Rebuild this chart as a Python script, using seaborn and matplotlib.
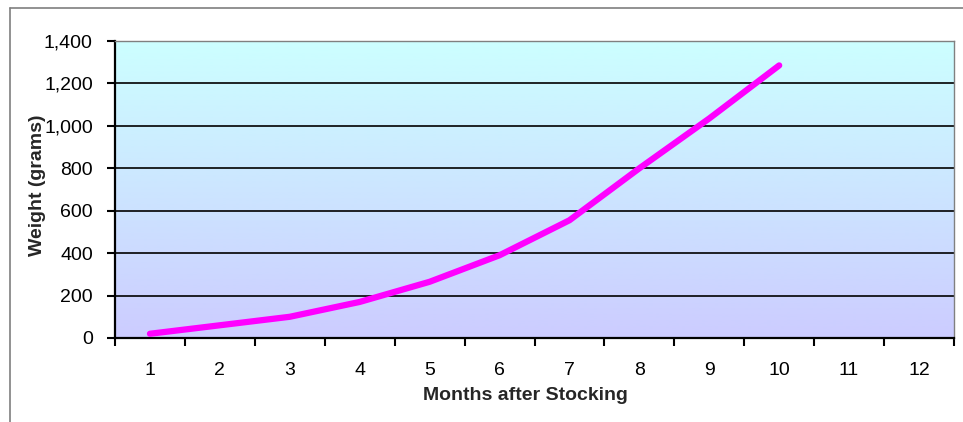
import numpy as np
import matplotlib
matplotlib.use("Agg")
import matplotlib.pyplot as plt
import seaborn as sns
from matplotlib.colors import LinearSegmentedColormap
from matplotlib.lines import Line2D
from matplotlib.ticker import FuncFormatter

# Fish growth after stocking
months = [1, 2, 3, 4, 5, 6, 7, 8, 9, 10]
weight_g = [20, 60, 100, 170, 265, 390, 555, 800, 1035, 1285]
month_labels = [str(m) for m in range(1, 13)]
y_ticks = [0, 200, 400, 600, 800, 1000, 1200, 1400]

sns.set_theme(style="white")
plt.rcParams["font.family"] = ["Liberation Sans", "DejaVu Sans"]

W, H = 963, 422
fig = plt.figure(figsize=(W / 100, H / 100), dpi=100)
fig.patch.set_facecolor("white")

left, right, top, bottom = 115, 954, 41, 338
ax = fig.add_axes([left / W, (H - bottom) / H, (right - left) / W, (bottom - top) / H])

# vertical gradient background of the plot area
grad = np.linspace(0, 1, 256).reshape(-1, 1)
cmap = LinearSegmentedColormap.from_list("bg", ["#CCCCFF", "#CCFFFF"])
ax.imshow(grad, cmap=cmap, aspect="auto", extent=[0, 1, 0, 1],
          transform=ax.transAxes, origin="lower", zorder=0,
          interpolation="bilinear")

sns.lineplot(x=months, y=weight_g, color="#FF00FF", linewidth=4.5, ax=ax,
             zorder=3, solid_capstyle="round", solid_joinstyle="round")

ax.set_xlim(0.5, 12.5)
ax.set_ylim(0, 1400)

ax.set_yticks(y_ticks)
ax.yaxis.set_major_formatter(FuncFormatter(lambda v, p: f"{int(v):,}"))
ax.yaxis.grid(True, color="black", linewidth=1.2)
ax.xaxis.grid(False)

ax.set_xticks(range(1, 13))
ax.set_xticklabels(month_labels)
ax.set_xticks(np.arange(0.5, 13, 1.0), minor=True)
ax.tick_params(axis="x", which="major", length=0, pad=17, labelsize=14, colors="black")
ax.tick_params(axis="x", which="minor", length=6, width=1.5, direction="out",
               color="black", bottom=True)
ax.tick_params(axis="y", length=6, width=1.5, direction="out", pad=10,
               labelsize=14, colors="black", left=True)

for side in ("left", "bottom"):
    ax.spines[side].set_color("black")
    ax.spines[side].set_linewidth(1.6)
for side in ("top", "right"):
    ax.spines[side].set_color("#808080")
    ax.spines[side].set_linewidth(1.0)

ax.set_xlabel("Months after Stocking", fontsize=14, fontweight="bold")
ax.set_ylabel("Weight (grams)", fontsize=14, fontweight="bold")
ax.xaxis.label.set_va("center")
ax.yaxis.label.set_va("center")
ax.xaxis.set_label_coords((525 - left) / (right - left), (bottom - 396) / (bottom - top))
ax.yaxis.set_label_coords((38 - left) / (right - left), (bottom - 185) / (bottom - top))

# chart-area frame
fx, fy = 10 / W, 1 - 8 / H
fig.add_artist(Line2D([fx, fx], [0, fy], transform=fig.transFigure, color="#7f7f7f", lw=1.2))
fig.add_artist(Line2D([fx, 1], [fy, fy], transform=fig.transFigure, color="#7f7f7f", lw=1.2))

fig.savefig("out.png", dpi=100)
